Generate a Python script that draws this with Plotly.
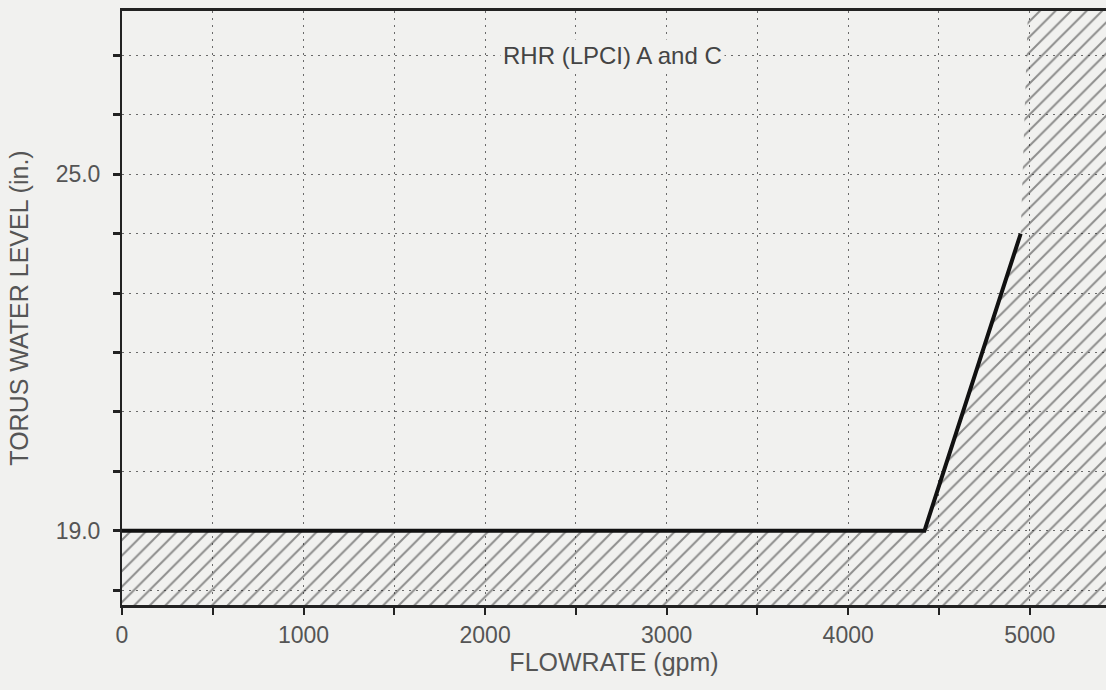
import plotly.graph_objects as go

# Limit curve (flowrate gpm vs torus water level in.)
flow = [0, 4420, 4950]
level = [19.0, 19.0, 24.0]

# Unacceptable (hatched) region boundary
hatch_x = [0, 0, 4420, 4950, 4990, 5420, 5420, 0]
hatch_y = [17.75, 19.0, 19.0, 24.0, 27.75, 27.75, 17.75, 17.75]

x_tickvals = [0, 500, 1000, 1500, 2000, 2500, 3000, 3500, 4000, 4500, 5000]
x_ticktext = ["0", "", "1000", "", "2000", "", "3000", "", "4000", "", "5000"]
y_tickvals = [18, 19, 20, 21, 22, 23, 24, 25, 26, 27]
y_ticktext = ["", "19.0", "", "", "", "", "", "25.0", "", ""]

x_range = [0, 5420]
y_range = [17.75, 27.75]

BG = "#f1f1ef"
INK = "#222222"
TXT = "#555555"
FONT = "Liberation Sans"

fig = go.Figure()

fig.add_trace(go.Scatter(
    x=hatch_x, y=hatch_y, mode="lines", fill="toself",
    line=dict(width=0, color="rgba(0,0,0,0)"),
    fillcolor="rgba(0,0,0,0)",
    fillpattern=dict(shape="/", size=11, solidity=0.18,
                     fgcolor="#2a2a2a", bgcolor="rgba(0,0,0,0)"),
    hoverinfo="skip", showlegend=False,
))

fig.add_trace(go.Scatter(
    x=flow, y=level, mode="lines",
    line=dict(color="#111111", width=4),
    showlegend=False,
))

fig.add_annotation(
    x=2700, y=27, xref="x", yref="y", text="RHR (LPCI) A and C",
    showarrow=False, bgcolor=BG, borderpad=2,
    font=dict(family=FONT, size=24, color="#444444"),
)

fig.update_xaxes(
    range=x_range, tickvals=x_tickvals, ticktext=x_ticktext,
    ticks="outside", ticklen=7, tickwidth=2, tickcolor=INK,
    showline=True, linecolor=INK, linewidth=3, mirror=True,
    showgrid=True, gridcolor="#6a6a6a", gridwidth=1, griddash="2px,5px",
    zeroline=False,
    tickfont=dict(family=FONT, size=23, color=TXT),
    title=dict(text="FLOWRATE (gpm)", standoff=4,
               font=dict(family=FONT, size=25, color=TXT)),
)
fig.update_yaxes(
    range=y_range, tickvals=y_tickvals, ticktext=y_ticktext,
    ticks="outside", ticklen=7, tickwidth=3, tickcolor=INK,
    ticklabelstandoff=8,
    showline=True, linecolor=INK, linewidth=2, mirror=False,
    showgrid=True, gridcolor="#6a6a6a", gridwidth=1, griddash="2px,5px",
    zeroline=False,
    tickfont=dict(family=FONT, size=23, color=TXT),
    title=dict(text="TORUS WATER LEVEL (in.)", standoff=20,
               font=dict(family=FONT, size=25, color=TXT)),
)

fig.update_layout(
    width=1106, height=690,
    margin=dict(l=122, r=0, t=11, b=85, autoexpand=False),
    paper_bgcolor=BG, plot_bgcolor=BG,
)

fig.write_html("out.html")
